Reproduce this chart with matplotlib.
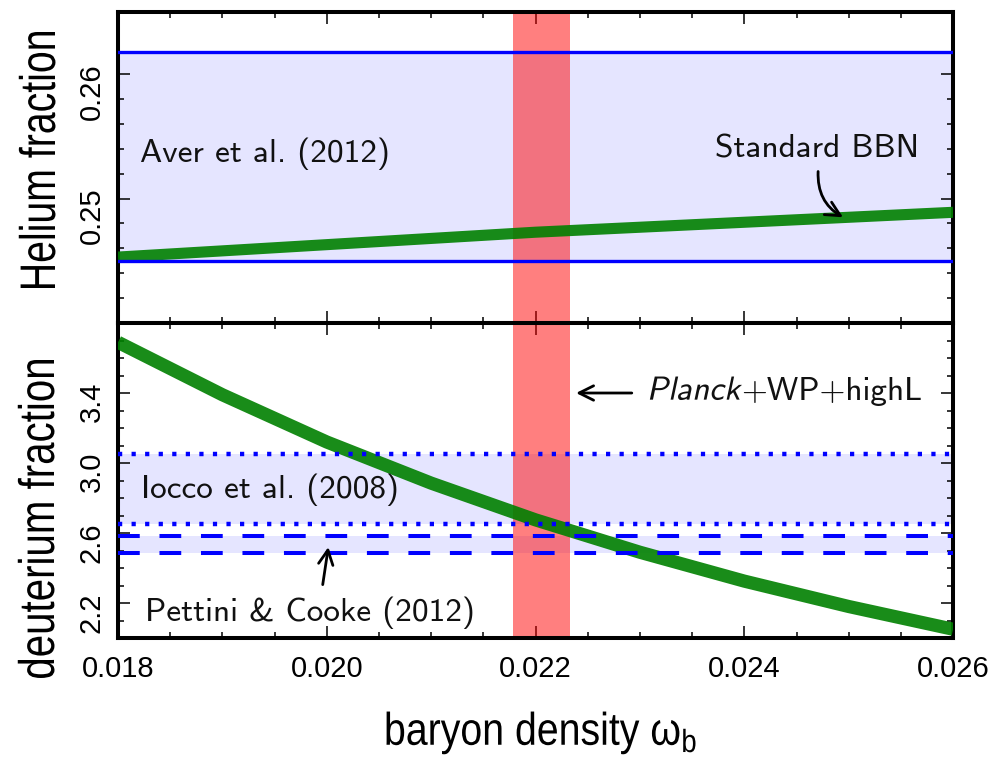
import numpy as np
import matplotlib
matplotlib.use("Agg")
import matplotlib.pyplot as plt
import matplotlib.transforms as mtransforms
from matplotlib.ticker import FixedLocator, MultipleLocator, FormatStrFormatter
from matplotlib.textpath import TextPath, text_to_path
from matplotlib.patches import PathPatch
from matplotlib.font_manager import FontProperties

# ------------------------------------------------------------------
# Data
# ------------------------------------------------------------------
# standard BBN predictions vs baryon density
omega_he = [0.018, 0.020, 0.022, 0.024, 0.026]
helium_bbn = [0.2453, 0.2463, 0.2473, 0.2481, 0.2489]

omega_d = [0.018, 0.019, 0.020, 0.021, 0.022, 0.023, 0.024, 0.025, 0.026]
deuterium_bbn = [3.69, 3.39, 3.12, 2.885, 2.675, 2.49, 2.325, 2.18, 2.05]

# observational bounds (lower, upper)
aver_2012 = [0.2450, 0.2618]
iocco_2008 = [2.653, 3.051]
pettini_2012 = [2.486, 2.585]
planck_wb = [0.02178, 0.02233]

x_ticks = [0.018, 0.020, 0.022, 0.024, 0.026]
he_ticks = [0.25, 0.26]
he_minor = [0.242, 0.244, 0.246, 0.248, 0.252, 0.254, 0.256, 0.258]
d_ticks = [2.2, 2.6, 3.0, 3.4]

W, H = 996, 757
LABEL_FONT = ['Liberation Sans', 'DejaVu Sans']
TICK_FONT = ['Liberation Sans', 'DejaVu Sans']
NOTE_FONT = 'cmss10'
NOTE_SIZE = 24
NOTE_COLOR = '#111111'

plt.rcParams['font.family'] = TICK_FONT


def style_axis(ax):
    for s in ax.spines.values():
        s.set_linewidth(2.9)
    ax.tick_params(which='both', direction='in', top=True, right=True,
                   width=1.1, labelsize=21)
    ax.tick_params(which='major', length=8.5)
    ax.tick_params(which='minor', length=4.5)
    ax.tick_params(axis='x', pad=12)
    ax.tick_params(axis='y', pad=9, labelrotation=90)
    ax.xaxis.set_major_locator(FixedLocator(x_ticks))
    ax.xaxis.set_minor_locator(MultipleLocator(0.0005))
    ax.xaxis.set_major_formatter(FormatStrFormatter('%.3f'))
    ax.set_xlim(0.018, 0.026)


def note(ax, x, y, s):
    ax.text(x, y, s, family=NOTE_FONT, size=NOTE_SIZE, color=NOTE_COLOR,
            ha='left', va='baseline', zorder=6)


def slanted_note(ax, x, y, s, rest, slant=12):
    """Sans italic word drawn as a sheared path, followed by upright text."""
    fp = FontProperties(family=NOTE_FONT, size=NOTE_SIZE)
    path = TextPath((0, 0), s, prop=fp)
    trans = (mtransforms.Affine2D().skew_deg(slant, 0).scale(ax.figure.dpi / 72.0)
             + mtransforms.ScaledTranslation(x, y, ax.transData))
    ax.add_artist(PathPatch(path, transform=trans, facecolor=NOTE_COLOR,
                            edgecolor='none', clip_on=False, zorder=6))
    w, h, d = text_to_path.get_text_width_height_descent(s, fp, ismath=False)
    ax.annotate(rest, xy=(x, y), xytext=(w + 1.0, 0), textcoords='offset points',
                family=NOTE_FONT, size=NOTE_SIZE, color=NOTE_COLOR,
                ha='left', va='baseline', zorder=6)


def arrow(ax, tail, tip, rad=0.0):
    ax.annotate('', xy=tip, xytext=tail,
                arrowprops=dict(arrowstyle='->', lw=2.0, color='black',
                                connectionstyle=f'arc3,rad={rad}',
                                shrinkA=0, shrinkB=0, mutation_scale=26),
                zorder=6)


def narrow_label(fig, s, x_px, y_px, size, length_px, rotation=0):
    """Axis label squeezed along its reading direction to a given length.
    (x_px, y_px) is the middle of the baseline, from the image top-left."""
    fp = FontProperties(family=LABEL_FONT, size=size)
    path = TextPath((0, 0), s, prop=fp)
    ext = path.get_extents()
    k = fig.dpi / 72.0
    sx = length_px / (ext.width * k)
    trans = (mtransforms.Affine2D()
             .translate(-(ext.x0 + ext.x1) / 2.0, 0)
             .scale(sx * k, k)
             .rotate_deg(rotation)
             .translate(x_px, H - y_px))
    fig.add_artist(PathPatch(path, transform=trans, facecolor='black',
                             edgecolor='none'))


fig = plt.figure(figsize=(W / 100, H / 100), dpi=100)
ax1 = fig.add_axes([0.1185, 0.5733, 0.8384, 0.4108])
ax2 = fig.add_axes([0.1185, 0.1572, 0.8384, 0.4161])

# ---------------- Panel 1: helium ----------------
ax1.axhspan(aver_2012[0], aver_2012[1], color='blue', alpha=0.1, lw=0, zorder=1)
ax1.axvspan(planck_wb[0], planck_wb[1], color='red', alpha=0.5, lw=0, zorder=2)
ax1.plot(omega_he, helium_bbn, color='green', alpha=0.9, lw=8,
         solid_capstyle='butt', zorder=3)
for y in aver_2012:
    ax1.axhline(y, color='blue', lw=2.4, zorder=4)

style_axis(ax1)
ax1.set_ylim(0.240, 0.265)
ax1.yaxis.set_major_locator(FixedLocator(he_ticks))
ax1.yaxis.set_minor_locator(FixedLocator(he_minor))
ax1.yaxis.set_major_formatter(FormatStrFormatter('%.2f'))
ax1.tick_params(axis='x', labelbottom=False)

note(ax1, 0.01821, 0.25294, 'Aver et al. (2012)')
note(ax1, 0.02372, 0.25330, 'Standard BBN')
arrow(ax1, (0.024707, 0.25218), (0.024946, 0.24850), rad=0.3)

# ---------------- Panel 2: deuterium ----------------
ax2.axhspan(iocco_2008[0], iocco_2008[1], color='blue', alpha=0.1, lw=0, zorder=1)
ax2.axhspan(pettini_2012[0], pettini_2012[1], color='blue', alpha=0.1, lw=0, zorder=1)
ax2.axvspan(planck_wb[0], planck_wb[1], color='red', alpha=0.5, lw=0, zorder=2)
ax2.plot(omega_d, deuterium_bbn, color='green', alpha=0.9, lw=9.5,
         solid_capstyle='butt', solid_joinstyle='round', zorder=3)
for y in iocco_2008:
    ax2.axhline(y, color='blue', lw=3.2, dashes=(0.95, 2.1), zorder=4)
for y in pettini_2012:
    ax2.axhline(y, color='blue', lw=2.9, dashes=(5.4, 4.9), zorder=4)

style_axis(ax2)
ax2.set_ylim(2.0, 3.8)
ax2.yaxis.set_major_locator(FixedLocator(d_ticks))
ax2.yaxis.set_minor_locator(MultipleLocator(0.1))
ax2.yaxis.set_major_formatter(FormatStrFormatter('%.1f'))

note(ax2, 0.018217, 2.800, 'Iocco et al. (2008)')
note(ax2, 0.018259, 2.097, 'Pettini & Cooke (2012)')
arrow(ax2, (0.019961, 2.305), (0.020015, 2.520))
slanted_note(ax2, 0.023065, 3.362, 'Planck', '+WP+highL')
arrow(ax2, (0.022922, 3.400), (0.022388, 3.400))

# ---------------- Axis labels ----------------
narrow_label(fig, 'Helium fraction', 55, 160, 36, 256, rotation=90)
narrow_label(fig, 'deuterium fraction', 54, 519, 36, 318, rotation=90)
narrow_label(fig, r'baryon density $\mathregular{\omega_b}$', 541, 745, 33, 309)

fig.savefig('out.png', dpi=100)
